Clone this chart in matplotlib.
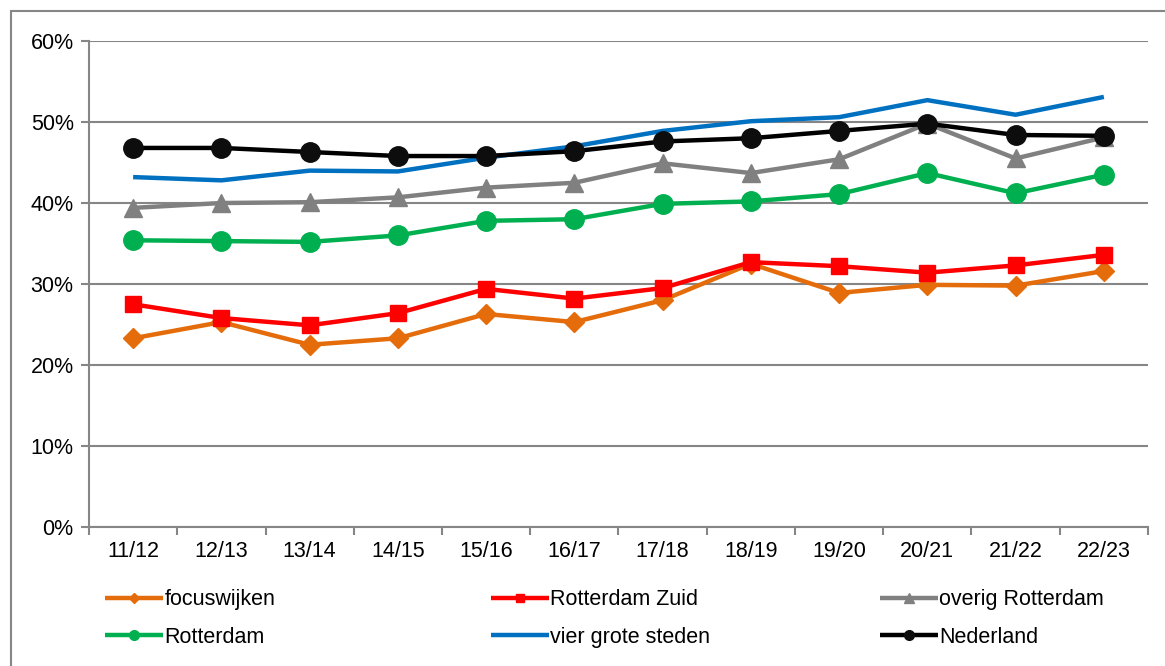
import matplotlib.pyplot as plt
from matplotlib.patches import Rectangle
from matplotlib.ticker import FuncFormatter, FixedLocator

plt.rcParams['font.family'] = ['Liberation Sans', 'DejaVu Sans']

# schooljaren
jaren = ['11/12', '12/13', '13/14', '14/15', '15/16', '16/17',
         '17/18', '18/19', '19/20', '20/21', '21/22', '22/23']

# percentages per gebied
focuswijken = [23.3, 25.3, 22.5, 23.3, 26.3, 25.3, 28.0, 32.5, 28.9, 29.9, 29.8, 31.6]
rotterdam_zuid = [27.5, 25.8, 24.9, 26.4, 29.4, 28.2, 29.5, 32.7, 32.2, 31.4, 32.3, 33.6]
overig_rotterdam = [39.4, 40.0, 40.1, 40.7, 41.9, 42.5, 44.9, 43.7, 45.4, 49.8, 45.5, 48.1]
rotterdam = [35.4, 35.3, 35.2, 36.0, 37.8, 38.0, 39.9, 40.2, 41.1, 43.7, 41.2, 43.5]
vier_grote_steden = [43.2, 42.8, 44.0, 43.9, 45.6, 47.0, 48.9, 50.1, 50.6, 52.7, 50.9, 53.1]
nederland = [46.8, 46.8, 46.3, 45.8, 45.8, 46.4, 47.6, 48.0, 48.9, 49.8, 48.4, 48.3]

fig = plt.figure(figsize=(11.65, 6.66), dpi=100)
ax = fig.add_axes([0.0764, 0.2087, 0.9090, 0.7297])

x = list(range(len(jaren)))
# (label, data, kleur, marker, markersize)
series = [
    ('focuswijken', focuswijken, '#E46C0A', 'D', 10),
    ('Rotterdam Zuid', rotterdam_zuid, '#FF0000', 's', 12),
    ('overig Rotterdam', overig_rotterdam, '#808080', '^', 13),
    ('Rotterdam', rotterdam, '#00B050', 'o', 14),
    ('vier grote steden', vier_grote_steden, '#0070C0', None, 0),
    ('Nederland', nederland, '#000000', 'o', 14),
]
handles = {}
for label, data, kleur, marker, ms in series:
    mfc = '#0D0D0D' if label == 'Nederland' else kleur
    h, = ax.plot(x, [v / 100 for v in data], color=kleur, lw=3.2,
                 marker=marker, markersize=ms, markerfacecolor=mfc,
                 markeredgecolor=mfc, label=label, solid_capstyle='butt')
    handles[label] = h

ax.set_xlim(-0.5, len(jaren) - 0.5)
ax.set_ylim(0, 0.6)
ax.set_yticks([0, 0.1, 0.2, 0.3, 0.4, 0.5, 0.6])
ax.yaxis.set_major_formatter(FuncFormatter(lambda v, p: f'{v * 100:.0f}%'))
ax.set_xticks(x)
ax.set_xticklabels(jaren)
ax.xaxis.set_minor_locator(FixedLocator([i - 0.5 for i in range(len(jaren) + 1)]))
ax.grid(axis='y', color='#868686', lw=1.5)
ax.set_axisbelow(True)
for s in ['top', 'right']:
    ax.spines[s].set_visible(False)
for s in ['left', 'bottom']:
    ax.spines[s].set_color('#868686')
    ax.spines[s].set_linewidth(1.5)
ax.tick_params(axis='y', labelsize=15.5, color='#868686', width=1.5, length=6, pad=5)
ax.tick_params(axis='x', which='major', labelsize=15.5, length=0, pad=10)
ax.tick_params(axis='x', which='minor', color='#868686', width=1.5, length=6)

# legenda in drie kolommen
kolommen = [(['focuswijken', 'Rotterdam'], 0.083),
            (['Rotterdam Zuid', 'vier grote steden'], 0.414),
            (['overig Rotterdam', 'Nederland'], 0.748)]
for namen, xpos in kolommen:
    fig.legend([handles[n] for n in namen], namen, loc='upper left',
               bbox_to_anchor=(xpos, 0.128), frameon=False, fontsize=15.5,
               handlelength=2.7, handletextpad=0.05, labelspacing=0.75,
               markerscale=0.5, borderaxespad=0)

# rand om de figuur
fig.add_artist(Rectangle((11 / 1165, -0.1), 1.2, 1 - 11 / 666 + 0.1,
                         transform=fig.transFigure, fill=False,
                         edgecolor='#868686', lw=1.5))

fig.savefig('out.png', dpi=100)
